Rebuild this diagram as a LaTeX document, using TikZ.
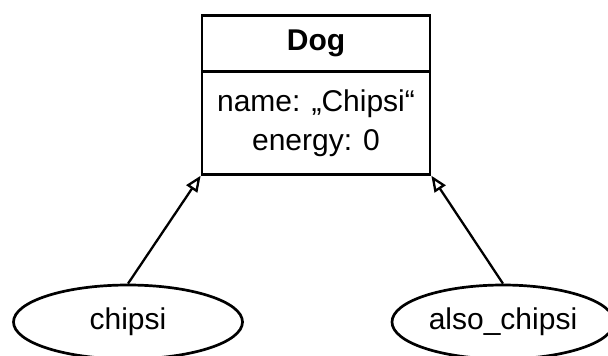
\documentclass[tikz,border=0pt]{standalone}
\usepackage{fontspec}
\setmainfont{Liberation Sans}
\usetikzlibrary{arrows.meta,shapes.geometric}
\begin{document}
\begin{tikzpicture}[x=1pt,y=-1pt,
  every node/.style={font=\fontsize{30}{39}\selectfont, inner sep=0pt, line width=2.7pt},
  part/.style={draw, rectangle, minimum width=228pt, anchor=north},
  obj/.style={draw, ellipse, minimum height=74pt},
  inh/.style={line width=2.3pt, -{Triangle[open, length=16pt, width=13pt, line width=2.3pt]}}]
\useasboundingbox (0,0) rectangle (608,356);
\node[part, minimum height=56pt, font=\fontsize{30}{39}\selectfont\bfseries] (head) at (316,14) {\raisebox{-3pt}{Dog}};
\node[part, minimum height=103pt, align=center] (body) at (316,70) {name: „Chipsi“\\energy: 0};
\node[obj, minimum width=229pt] (chipsi) at (128,322) {chipsi};
\node[obj, minimum width=222pt] (also) at (503,322) {also\_chipsi};
\draw[inh] (chipsi.north) -- (body.south west);
\draw[inh] (also.north) -- (body.south east);
\end{tikzpicture}
\end{document}
